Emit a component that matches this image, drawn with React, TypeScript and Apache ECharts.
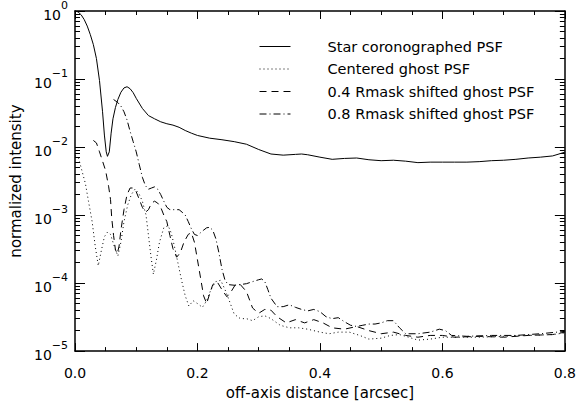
import React, { useEffect, useRef } from "react";
import * as echarts from "echarts";

// x: off-axis distance [arcsec], y: normalized intensity
const starPSF: [number, number][] = [
  [0, 1.0], [0.005, 0.97], [0.01, 0.88], [0.015, 0.75], [0.02, 0.6], [0.025, 0.45],
  [0.03, 0.32], [0.035, 0.2], [0.04, 0.095], [0.045, 0.033], [0.048, 0.015], [0.051, 0.0085],
  [0.053, 0.0073], [0.056, 0.0085], [0.059, 0.016], [0.062, 0.026], [0.066, 0.038],
  [0.07, 0.05], [0.075, 0.064], [0.08, 0.074], [0.085, 0.077], [0.09, 0.072], [0.095, 0.063],
  [0.1, 0.052], [0.11, 0.037], [0.12, 0.029], [0.13, 0.026], [0.14, 0.0235], [0.15, 0.022],
  [0.16, 0.021], [0.17, 0.0195], [0.18, 0.0175], [0.19, 0.016], [0.2, 0.0148], [0.22, 0.0135],
  [0.24, 0.0128], [0.26, 0.012], [0.28, 0.011], [0.3, 0.0092], [0.32, 0.0079], [0.34, 0.0076],
  [0.36, 0.0078], [0.37, 0.0079], [0.38, 0.0077], [0.4, 0.0071], [0.42, 0.0066], [0.44, 0.0068],
  [0.46, 0.0069], [0.48, 0.0065], [0.5, 0.0063], [0.52, 0.0064], [0.54, 0.0062], [0.56, 0.0059],
  [0.58, 0.006], [0.6, 0.006], [0.62, 0.006], [0.64, 0.006], [0.66, 0.0061], [0.68, 0.0063],
  [0.7, 0.0064], [0.72, 0.0066], [0.74, 0.0069], [0.76, 0.0071], [0.78, 0.0074], [0.8, 0.0084],
];

const centeredGhost: [number, number][] = [
  [0, 0.0075], [0.006, 0.0068], [0.011, 0.0046], [0.017, 0.0029], [0.022, 0.0016],
  [0.028, 0.0008], [0.033, 0.00035], [0.038, 0.00018], [0.043, 0.0003], [0.048, 0.00048],
  [0.053, 0.00056], [0.058, 0.00052], [0.064, 0.00035], [0.07, 0.00025], [0.075, 0.0004],
  [0.08, 0.0008], [0.086, 0.0014], [0.092, 0.002], [0.098, 0.0024], [0.104, 0.0021],
  [0.11, 0.0016], [0.116, 0.001], [0.12, 0.0005], [0.124, 0.00025], [0.128, 0.000135],
  [0.133, 0.00022], [0.138, 0.0004], [0.145, 0.00065], [0.152, 0.0007], [0.157, 0.00055],
  [0.162, 0.00036], [0.168, 0.0002], [0.174, 0.00011], [0.18, 6.5e-5], [0.186, 4.6e-5],
  [0.193, 5.5e-5], [0.2, 5e-5], [0.208, 4.4e-5], [0.215, 5.5e-5], [0.222, 8e-5],
  [0.23, 1.05e-4], [0.238, 1.1e-4], [0.245, 8e-5], [0.252, 5.5e-5], [0.26, 3.5e-5],
  [0.27, 3e-5], [0.28, 3e-5], [0.29, 2.8e-5], [0.3, 3.2e-5], [0.31, 3.3e-5], [0.32, 3e-5],
  [0.335, 2.4e-5], [0.35, 2.2e-5], [0.365, 2.2e-5], [0.38, 2.1e-5], [0.4, 1.9e-5],
  [0.415, 1.8e-5], [0.43, 1.9e-5], [0.448, 1.9e-5], [0.465, 1.7e-5], [0.48, 1.5e-5],
  [0.5, 1.55e-5], [0.515, 1.7e-5], [0.53, 1.75e-5], [0.545, 1.6e-5], [0.56, 1.45e-5],
  [0.58, 1.5e-5], [0.6, 1.6e-5], [0.62, 1.6e-5], [0.66, 1.6e-5], [0.7, 1.65e-5],
  [0.74, 1.7e-5], [0.78, 1.75e-5], [0.8, 1.85e-5],
];

const shifted04: [number, number][] = [
  [0.03, 0.0125], [0.035, 0.0115], [0.04, 0.0085], [0.045, 0.0062], [0.05, 0.0045],
  [0.055, 0.0026], [0.058, 0.0017], [0.06, 0.0009], [0.063, 0.0005], [0.066, 0.00031],
  [0.069, 0.00027], [0.072, 0.00035], [0.075, 0.0006], [0.08, 0.0012], [0.085, 0.002],
  [0.09, 0.0025], [0.095, 0.0025], [0.1, 0.0022], [0.105, 0.0017], [0.11, 0.0013],
  [0.115, 0.0011], [0.12, 0.0012], [0.125, 0.0015], [0.13, 0.0016], [0.135, 0.0015],
  [0.14, 0.0013], [0.145, 0.001], [0.15, 0.0008], [0.155, 0.0005], [0.16, 0.00032],
  [0.166, 0.00024], [0.172, 0.00028], [0.178, 0.0004], [0.185, 0.00052], [0.19, 0.00055],
  [0.195, 0.0004], [0.2, 0.00022], [0.205, 0.00012], [0.21, 6.5e-5], [0.215, 5e-5],
  [0.22, 7e-5], [0.225, 9.5e-5], [0.232, 1.05e-4], [0.24, 8e-5], [0.248, 6.3e-5],
  [0.255, 7.5e-5], [0.262, 9.5e-5], [0.27, 9.5e-5], [0.28, 7.5e-5], [0.29, 4.3e-5],
  [0.3, 3.6e-5], [0.31, 4.1e-5], [0.32, 4e-5], [0.33, 3.2e-5], [0.345, 2.6e-5],
  [0.36, 2.9e-5], [0.375, 2.6e-5], [0.39, 2.9e-5], [0.405, 2.6e-5], [0.42, 2.2e-5],
  [0.44, 2.1e-5], [0.46, 2.3e-5], [0.48, 2.0e-5], [0.5, 1.8e-5], [0.52, 1.9e-5],
  [0.54, 1.7e-5], [0.56, 1.6e-5], [0.58, 1.7e-5], [0.6, 1.7e-5], [0.62, 1.6e-5],
  [0.66, 1.65e-5], [0.7, 1.6e-5], [0.74, 1.7e-5], [0.78, 1.75e-5], [0.8, 1.9e-5],
];

const shifted08: [number, number][] = [
  [0.063, 0.05], [0.07, 0.045], [0.075, 0.04], [0.08, 0.033], [0.085, 0.025], [0.09, 0.017],
  [0.095, 0.012], [0.1, 0.0085], [0.105, 0.0055], [0.11, 0.0036], [0.115, 0.0027],
  [0.12, 0.0024], [0.125, 0.0025], [0.13, 0.0026], [0.135, 0.0024], [0.14, 0.002],
  [0.145, 0.0016], [0.15, 0.0013], [0.155, 0.0012], [0.16, 0.0012], [0.165, 0.0012],
  [0.17, 0.0012], [0.175, 0.0011], [0.18, 0.001], [0.185, 0.0008], [0.19, 0.00063],
  [0.195, 0.00052], [0.2, 0.0005], [0.205, 0.00055], [0.21, 0.0006], [0.215, 0.00065],
  [0.22, 0.00066], [0.225, 0.0006], [0.23, 0.00045], [0.235, 0.00028], [0.24, 0.00016],
  [0.245, 0.00011], [0.25, 9.5e-5], [0.26, 9.3e-5], [0.27, 9.5e-5], [0.28, 9.8e-5],
  [0.29, 1.05e-4], [0.3, 1.12e-4], [0.305, 1.15e-4], [0.31, 1.05e-4], [0.315, 8e-5],
  [0.32, 6e-5], [0.33, 4.5e-5], [0.34, 4.5e-5], [0.35, 4.8e-5], [0.36, 4.4e-5],
  [0.37, 4.1e-5], [0.38, 3.9e-5], [0.39, 4.1e-5], [0.4, 3.8e-5], [0.41, 3.2e-5],
  [0.42, 3.0e-5], [0.43, 3.1e-5], [0.44, 2.7e-5], [0.45, 2.4e-5], [0.46, 2.3e-5],
  [0.47, 2.4e-5], [0.48, 2.5e-5], [0.49, 2.5e-5], [0.5, 2.6e-5], [0.51, 2.8e-5],
  [0.52, 2.8e-5], [0.53, 2.2e-5], [0.54, 1.8e-5], [0.56, 1.8e-5], [0.58, 1.9e-5],
  [0.595, 2.1e-5], [0.605, 2.0e-5], [0.615, 1.7e-5], [0.64, 1.65e-5], [0.68, 1.7e-5],
  [0.72, 1.7e-5], [0.76, 1.8e-5], [0.8, 1.95e-5],
];

const seriesNames = [
  "Star coronographed PSF",
  "Centered ghost PSF",
  "0.4 Rmask shifted ghost PSF",
  "0.8 Rmask shifted ghost PSF",
];

const yDecades = [1e-5, 1e-4, 1e-3, 1e-2, 1e-1, 1];
const yMinorTicks: number[] = [];
for (let d = 0; d < yDecades.length - 1; d++) {
  for (let m = 2; m <= 9; m++) yMinorTicks.push(yDecades[d] * m);
}

const FONT = "DejaVu Sans";

export default function App() {
  const ref = useRef<HTMLDivElement>(null);
  useEffect(() => {
    document.body.style.margin = "0";
    const chart = echarts.init(ref.current!, null, { renderer: "svg" });
    const axisLine = { show: true, lineStyle: { color: "#000", width: 1.5 } };
    const xBase = {
      type: "value" as const,
      min: 0,
      max: 0.8,
      interval: 0.2,
      splitLine: { show: false },
      axisLine,
      axisTick: { show: true, inside: true, length: 8, lineStyle: { color: "#000", width: 1 } },
      minorTick: { show: true, splitNumber: 4, length: 4, lineStyle: { color: "#000", width: 1 } },
    };
    const yBase = {
      type: "log" as const,
      logBase: 10,
      min: 1e-5,
      max: 1,
      splitLine: { show: false },
      minorSplitLine: { show: false },
    };
    const lineSeries = (name: string, data: [number, number][], type: any) => ({
      name,
      type: "line",
      data,
      symbol: "none",
      showSymbol: false,
      xAxisIndex: 0,
      yAxisIndex: 0,
      clip: true,
      lineStyle: { color: "#000", width: 1, type },
      itemStyle: { color: "#000" },
    });
    chart.setOption({
      animation: false,
      backgroundColor: "#fff",
      textStyle: { fontFamily: FONT, color: "#000" },
      grid: { left: 75, right: 13, top: 10, bottom: 46 },
      legend: {
        orient: "vertical",
        left: 259,
        top: 39,
        padding: 0,
        itemWidth: 31,
        itemHeight: 14,
        itemGap: 7.5,
        itemStyle: { opacity: 0, borderWidth: 0 },
        lineStyle: { width: 1 },
        textStyle: { fontFamily: FONT, fontSize: 14.5, color: "#000", padding: [0, 0, 0, 32] },
        data: seriesNames,
      },
      xAxis: [
        {
          ...xBase,
          position: "bottom",
          name: "off-axis distance [arcsec]",
          nameLocation: "middle",
          nameGap: 33,
          nameTextStyle: { fontFamily: FONT, fontSize: 15, color: "#000" },
          axisLabel: {
            show: true,
            margin: 15,
            fontFamily: FONT,
            fontSize: 14,
            color: "#000",
            formatter: (v: number) => v.toFixed(1),
          },
        },
        {
          ...xBase,
          position: "top",
          axisLabel: { show: false },
        },
      ],
      yAxis: [
        {
          ...yBase,
          position: "left",
          splitNumber: 5,
          name: "normalized intensity",
          nameLocation: "middle",
          nameGap: 49,
          nameTextStyle: { fontFamily: FONT, fontSize: 15, color: "#000" },
          axisLine,
          axisTick: { show: true, inside: true, length: 10, lineStyle: { color: "#000", width: 1 } },
          axisLabel: {
            show: true,
            margin: 7,
            formatter: (v: number) => {
              const e = Math.round(Math.log10(v));
              return `{b|10}{s|${e === 0 ? "0" : "\u2212" + -e}}`;
            },
            rich: {
              b: { fontFamily: FONT, fontSize: 14, color: "#000", lineHeight: 22, verticalAlign: "bottom" },
              s: { fontFamily: FONT, fontSize: 11, color: "#000", lineHeight: 12, verticalAlign: "top" },
            },
          },
        },
        {
          ...yBase,
          position: "left",
          axisLine: { show: false },
          axisLabel: { show: false },
          axisTick: {
            show: true,
            inside: true,
            length: 5,
            customValues: yMinorTicks,
            lineStyle: { color: "#000", width: 1 },
          },
        },
        {
          ...yBase,
          position: "right",
          splitNumber: 5,
          axisLine,
          axisLabel: { show: false },
          axisTick: { show: true, inside: true, length: 10, lineStyle: { color: "#000", width: 1 } },
        },
        {
          ...yBase,
          position: "right",
          axisLine: { show: false },
          axisLabel: { show: false },
          axisTick: {
            show: true,
            inside: true,
            length: 5,
            customValues: yMinorTicks,
            lineStyle: { color: "#000", width: 1 },
          },
        },
      ],
      series: [
        lineSeries(seriesNames[0], starPSF, "solid"),
        lineSeries(seriesNames[1], centeredGhost, [1, 3]),
        lineSeries(seriesNames[2], shifted04, [7, 5]),
        lineSeries(seriesNames[3], shifted08, [7, 3, 1, 3]),
      ],
    });
    return () => chart.dispose();
  }, []);
  return <div ref={ref} style={{ width: 579, height: 405 }} />;
}
